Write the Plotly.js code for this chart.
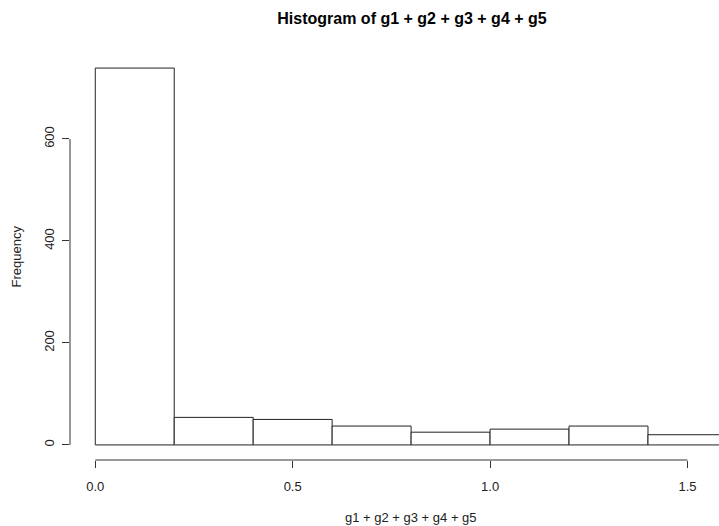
<!DOCTYPE html>
<html>
<head>
<meta charset="utf-8">
<script src="https://cdn.plot.ly/plotly-3.0.1.min.js"></script>
<style>
html,body{margin:0;padding:0;background:#fff;overflow:hidden;}
#chart{width:719px;height:526px;}
</style>
</head>
<body>
<div id="chart"></div>
<script>
// Data
const breaks = [0.0, 0.2, 0.4, 0.6, 0.8, 1.0, 1.2, 1.4, 1.6];
const counts = [739, 54, 50, 37, 25, 31, 37, 20];
const xTickVals = [0.0, 0.5, 1.0, 1.5];
const xTickText = ["0.0", "0.5", "1.0", "1.5"];
const yTickVals = [0, 200, 400, 600];
const yTickText = ["0", "200", "400", "600"];
const titleText = "Histogram of g1 + g2 + g3 + g4 + g5";
const xLabel = "g1 + g2 + g3 + g4 + g5";
const yLabel = "Frequency";

const mids = counts.map((_, i) => (breaks[i] + breaks[i + 1]) / 2);
const widths = counts.map((_, i) => breaks[i + 1] - breaks[i]);

// R-style 4% axis padding
const xMin = breaks[0], xMax = breaks[breaks.length - 1];
const xPad = 0.04 * (xMax - xMin);
const yMax = Math.max(...counts);
const yPad = 0.04 * yMax;
const W = 719, H = 526, L = 70, T = 53, B = 66;
// full R plot region would extend past the window; clip at right window edge
const pxPerUnit = 394.8;
const xRight = (xMin - xPad) + (W - L) / pxPerUnit;

const font = "Liberation Sans, Arial, Helvetica, sans-serif";
const axisColor = "#333";

const trace = {
  type: "bar",
  x: mids,
  y: counts,
  width: widths,
  marker: {color: "#ffffff", line: {color: "#222", width: 1}},
  hoverinfo: "x+y"
};

const layout = {
  width: W, height: H,
  margin: {l: L, r: 0, t: T, b: B, pad: 0},
  paper_bgcolor: "#fff",
  plot_bgcolor: "#fff",
  showlegend: false,
  bargap: 0,
  font: {family: font, size: 13, color: "#111"},
  title: {
    text: "<b>" + titleText + "</b>",
    font: {family: font, size: 16, color: "#000"},
    xref: "container", yref: "container",
    x: 412 / W, xanchor: "center",
    y: 1 - 18 / H, yanchor: "middle"
  },
  xaxis: {
    range: [xMin - xPad, xRight],
    tickvals: xTickVals, ticktext: xTickText,
    ticks: "outside", ticklen: 7, tickwidth: 1, tickcolor: axisColor,
    ticklabelstandoff: 7,
    showline: false, showgrid: false, zeroline: false,
    tickfont: {family: font, size: 13, color: "#222"},
    fixedrange: true
  },
  yaxis: {
    range: [-yPad, yMax + yPad],
    tickvals: yTickVals, ticktext: yTickText,
    ticks: "outside", ticklen: 7, tickwidth: 1, tickcolor: axisColor,
    tickangle: -90,
    ticklabelstandoff: 3,
    showline: false, showgrid: false, zeroline: false,
    tickfont: {family: font, size: 13, color: "#222"},
    fixedrange: true
  },
  shapes: [
    // R-style axis lines spanning only first to last tick
    {type: "line", xref: "x", yref: "paper",
     x0: xTickVals[0], x1: xTickVals[xTickVals.length - 1], y0: 0, y1: 0,
     line: {color: axisColor, width: 1}},
    {type: "line", xref: "paper", yref: "y",
     x0: 0, x1: 0, y0: yTickVals[0], y1: yTickVals[yTickVals.length - 1],
     line: {color: axisColor, width: 1}}
  ],
  annotations: [
    {text: xLabel, xref: "x", yref: "paper",
     x: (xMin + xMax) / 2, y: 0, yshift: -(517 - 460),
     xanchor: "center", yanchor: "middle", showarrow: false,
     font: {family: font, size: 13, color: "#222"}},
    {text: yLabel, xref: "paper", yref: "paper",
     x: 0, xshift: 16 - L, y: 0.5,
     xanchor: "center", yanchor: "middle", textangle: -90, showarrow: false,
     font: {family: font, size: 13, color: "#222"}}
  ]
};

Plotly.newPlot("chart", [trace], layout, {displayModeBar: false, staticPlot: true});
</script>
</body>
</html>
